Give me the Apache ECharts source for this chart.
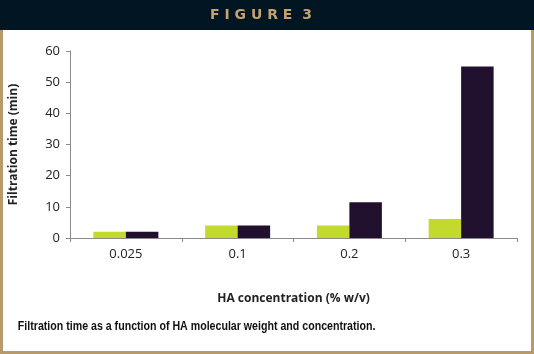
<!DOCTYPE html>
<html>
<head>
<meta charset="utf-8">
<script src="https://cdn.jsdelivr.net/npm/echarts@6/dist/echarts.min.js"></script>
<style>
  html, body { margin: 0; padding: 0; background: #ffffff; }
  #chart { width: 534px; height: 354px; }
</style>
</head>
<body>
<div id="chart"></div>
<script>
// HA concentration (% w/v)
const categories = ["0.025", "0.1", "0.2", "0.3"];
// filtration time (min), two HA molecular weights
const lowMw = [2, 4, 4, 6.1];
const highMw = [2, 4, 11.5, 55];
const yTicks = { min: 0, max: 60, interval: 10 };

const chart = echarts.init(document.getElementById("chart"));
const tan = "#b89a6a";
chart.setOption({
	animation: false,
	backgroundColor: "#ffffff",
	graphic: [
		{ type: "rect", shape: { x: 0, y: 0, width: 534, height: 30 }, style: { fill: "#021523" } },
		{ type: "rect", shape: { x: 0, y: 30, width: 3, height: 324 }, style: { fill: tan } },
		{ type: "rect", shape: { x: 531, y: 30, width: 3, height: 324 }, style: { fill: tan } },
		{ type: "rect", shape: { x: 0, y: 351, width: 534, height: 3 }, style: { fill: tan } },
		{
			type: "text", x: 261, y: 15,
			style: {
				text: "F I G U R E  3",
				fill: "#c4a370", align: "center", verticalAlign: "middle",
				font: "bold 14px 'DejaVu Sans', sans-serif"
			}
		},
		{
			type: "text", x: 16, y: 327, scaleX: 0.885, originX: 16, originY: 327,
			style: {
				text: "Filtration time as a function of HA molecular weight and concentration.",
				fill: "#111111", align: "left", verticalAlign: "middle",
				font: "bold 12px 'Liberation Sans', sans-serif"
			}
		}
	],
	grid: { left: 67, right: 17, top: 51, bottom: 116 },
	xAxis: {
		type: "category",
		data: categories,
		name: "HA concentration (% w/v)",
		nameLocation: "middle",
		nameGap: 55,
		nameTextStyle: { color: "#222", fontSize: 12, fontWeight: "bold", fontFamily: "Open Sans" },
		axisLine: { lineStyle: { color: "#8a8a8a", width: 1 } },
		axisTick: { show: true, length: 4, lineStyle: { color: "#8a8a8a" } },
		axisLabel: { color: "#222", fontSize: 13, fontFamily: "Open Sans", margin: 10 }
	},
	yAxis: {
		type: "value",
		min: yTicks.min,
		max: yTicks.max,
		interval: yTicks.interval,
		name: "Filtration time (min)",
		nameLocation: "middle",
		nameGap: 50,
		nameRotate: 90,
		nameTextStyle: { color: "#222", fontSize: 12, fontWeight: "bold", fontFamily: "Open Sans" },
		axisLine: { show: true, lineStyle: { color: "#8a8a8a", width: 1 } },
		axisTick: { show: true, length: 4, lineStyle: { color: "#8a8a8a" } },
		axisLabel: { color: "#222", fontSize: 13, fontFamily: "Open Sans", margin: 10 },
		splitLine: { show: false }
	},
	series: [
		{
			type: "bar",
			data: lowMw,
			barWidth: 32.5,
			barGap: "0%",
			itemStyle: { color: "#c3d92e" }
		},
		{
			type: "bar",
			data: highMw,
			barWidth: 32.5,
			barGap: "0%",
			itemStyle: { color: "#21102d" }
		}
	]
});
</script>
</body>
</html>
